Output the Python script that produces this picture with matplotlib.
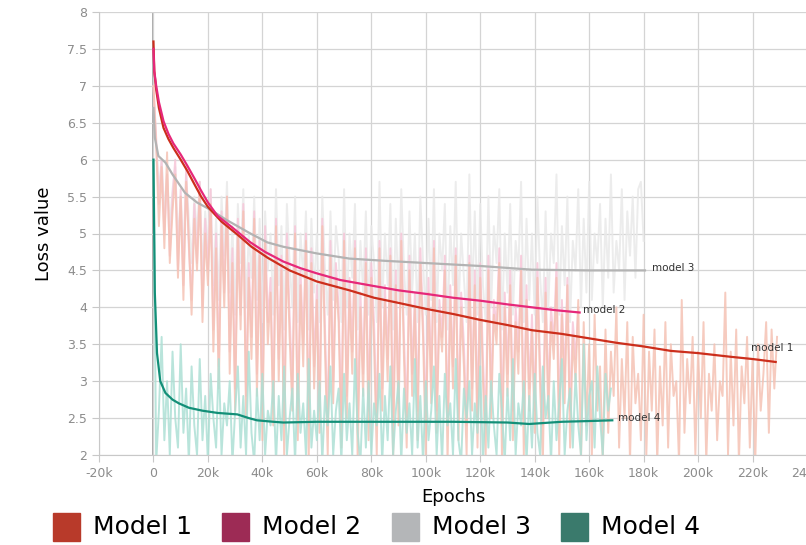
import numpy as np
import matplotlib
matplotlib.use("Agg")
import matplotlib.pyplot as plt
from matplotlib.patches import Rectangle

# smoothed loss curves (epochs in thousands)
m1_x = [0, 0.3, 1, 2, 3.7, 5.5, 7.3, 10, 12.4, 15, 17.5, 20, 25, 31, 36, 42, 50, 60, 72, 81, 90,
        100, 110, 120, 130, 139, 150, 160, 170, 180, 190, 200, 212, 220, 228.5]
m1_y = [7.6, 7.2, 6.95, 6.7, 6.43, 6.28, 6.16, 6.0, 5.85, 5.67, 5.5, 5.36, 5.16, 4.98, 4.82, 4.67, 4.5,
        4.35, 4.23, 4.13, 4.06, 3.98, 3.91, 3.83, 3.76, 3.69, 3.64, 3.58, 3.52, 3.47, 3.41, 3.38, 3.33,
        3.3, 3.26]

m2_x = [0, 0.3, 1, 2, 3.7, 5.5, 7.3, 10, 12.4, 15, 17.5, 20, 23.5, 29, 35.6, 41, 47.7, 54, 60, 68.6,
        80.7, 90, 100.5, 110, 120, 130, 139, 148, 156.5]
m2_y = [7.5, 7.2, 7.0, 6.78, 6.52, 6.35, 6.22, 6.07, 5.92, 5.75, 5.58, 5.42, 5.24, 5.08, 4.88, 4.75,
        4.62, 4.53, 4.46, 4.37, 4.29, 4.23, 4.18, 4.13, 4.09, 4.04, 4.0, 3.96, 3.93]

m3_x = [0, 0.5, 1.8, 4.4, 7, 11.6, 16, 21, 27, 35.6, 41.8, 47.7, 60, 72, 85, 100, 120, 139, 160, 180.5]
m3_y = [6.7, 6.3, 6.05, 5.96, 5.8, 5.55, 5.42, 5.32, 5.18, 5.0, 4.88, 4.82, 4.73, 4.66, 4.63, 4.6,
        4.56, 4.51, 4.5, 4.5]

m4_x = [0, 0.5, 1.3, 2.5, 4.4, 7, 9.3, 13, 18, 23.5, 30.8, 35, 38, 44, 47.7, 60, 72, 90, 110, 130,
        138, 150, 160, 168.5]
m4_y = [6.0, 4.2, 3.38, 3.0, 2.84, 2.75, 2.7, 2.64, 2.6, 2.57, 2.55, 2.5, 2.47, 2.45, 2.44, 2.45,
        2.45, 2.45, 2.45, 2.44, 2.42, 2.45, 2.46, 2.47]

# raw (unsmoothed) loss, one reading every 1k epochs
m1_raw = [7.0, 6.2, 5.1, 5.9, 4.8, 6.1, 4.6, 5.3, 5.8, 4.4, 5.5, 4.1, 5.7, 4.9, 3.9, 5.2, 4.5, 5.6, 3.8, 5.0,
          4.3, 5.4, 3.4, 4.8, 2.9, 5.1, 4.0, 5.5, 3.1, 4.6, 2.6, 5.0, 3.7, 5.3, 2.5, 4.4, 3.3, 5.2, 2.8, 4.7,
          2.2, 4.9, 3.5, 4.2, 2.4, 5.1, 3.0, 4.5, 2.0, 4.8, 3.6, 2.6, 5.0, 2.2, 4.3, 3.2, 4.9, 1.9, 4.6, 2.9,
          4.1, 2.3, 5.1, 3.4, 2.0, 4.7, 2.7, 4.4, 3.8, 2.1, 4.9, 2.5, 4.2, 3.1, 4.8, 1.9, 4.0, 2.8, 4.6, 2.2,
          4.4, 3.5, 2.0, 4.8, 2.6, 4.1, 3.0, 4.7, 1.9, 4.3, 2.4, 4.9, 3.3, 2.1, 4.5, 2.8, 4.0, 2.2, 4.6, 3.6,
          2.0, 4.2, 2.7, 4.8, 2.3, 3.9, 3.4, 4.5, 1.9, 4.1, 2.9, 4.7, 2.2, 4.0, 3.2, 2.0, 4.6, 2.6, 4.3, 2.1,
          4.4, 3.0, 2.0, 4.5, 2.5, 3.9, 3.5, 4.6, 1.9, 4.0, 2.8, 4.3, 2.2, 3.8, 3.1, 4.5, 2.0, 4.1, 2.6, 3.7,
          2.3, 4.4, 2.9, 1.9, 4.2, 2.5, 3.8, 3.3, 4.4, 2.0, 3.9, 2.7, 4.3, 2.1, 3.6, 3.0, 4.1, 1.9, 3.8, 2.4,
          3.5, 2.0, 3.9, 2.6, 3.2, 1.9, 3.7, 2.3, 3.4, 2.8, 4.0, 2.1, 3.3, 2.5, 3.8, 1.9, 3.6, 2.7, 3.1, 2.2,
          3.9, 2.0, 3.4, 2.6, 3.7, 1.9, 3.2, 2.4, 3.8, 2.1, 3.5, 2.8, 3.0, 1.9, 4.1, 2.3, 3.3, 2.7, 3.6, 2.0,
          3.4, 2.5, 3.8, 1.9, 3.1, 2.6, 3.5, 2.2, 3.0, 2.8, 4.2, 2.0, 3.4, 2.4, 3.7, 1.9, 3.2, 2.7, 3.6, 2.1,
          3.3, 1.9, 3.5, 2.6, 3.1, 3.8, 2.3, 3.7, 2.9, 3.6]
m2_raw = [7.0, 6.3, 5.4, 6.0, 5.0, 5.8, 4.7, 5.5, 6.0, 4.5, 5.6, 4.3, 5.9, 4.8, 4.1, 5.4, 4.6, 5.7, 4.0, 5.2,
          4.5, 5.6, 3.7, 5.0, 3.2, 5.3, 4.2, 5.5, 3.4, 4.8, 2.9, 5.2, 3.9, 5.4, 2.8, 4.6, 3.6, 5.3, 3.1, 4.9,
          2.6, 5.1, 3.8, 4.4, 2.7, 5.2, 3.3, 4.7, 2.4, 5.0, 3.9, 2.9, 5.1, 2.5, 4.5, 3.5, 5.0, 2.4, 4.8, 3.2,
          4.3, 2.6, 5.2, 3.7, 2.4, 4.9, 3.0, 4.6, 4.0, 2.5, 5.0, 2.8, 4.4, 3.4, 4.9, 2.4, 4.2, 3.1, 4.8, 2.6,
          4.6, 3.8, 2.4, 4.9, 2.9, 4.3, 3.3, 4.8, 2.4, 4.5, 2.7, 5.0, 3.6, 2.5, 4.7, 3.1, 4.2, 2.6, 4.8, 3.8,
          2.5, 4.4, 3.0, 4.9, 2.6, 4.1, 3.6, 4.7, 2.4, 4.3, 3.2, 4.8, 2.5, 4.2, 3.5, 2.4, 4.7, 2.9, 4.5, 2.5,
          4.6, 3.3, 2.4, 4.7, 2.8, 4.1, 3.7, 4.8, 2.4, 4.2, 3.1, 4.5, 2.6, 4.0, 3.4, 4.7, 2.5, 4.3, 2.9, 3.9,
          2.6, 4.6, 3.2, 2.4, 4.4, 2.8, 4.0, 3.5, 4.6, 2.5, 4.1, 3.0, 4.4, 2.6, 3.8, 3.3, 4.0]
m3_raw = [6.7, 6.2, 5.6, 6.0, 5.3, 5.8, 5.1, 5.6, 5.9, 4.9, 5.5, 4.7, 5.8, 5.2, 4.6, 5.5, 5.0, 5.7, 4.5, 5.3,
          4.8, 5.6, 4.3, 5.2, 4.1, 5.5, 4.7, 5.7, 4.2, 5.1, 3.9, 5.4, 4.6, 5.6, 4.0, 5.0, 4.4, 5.5, 4.1, 5.2,
          3.8, 5.3, 4.5, 5.0, 3.9, 5.6, 4.3, 5.1, 3.7, 5.4, 4.6, 4.0, 5.5, 3.8, 5.0, 4.4, 5.3, 3.7, 5.2, 4.2,
          5.0, 3.8, 5.5, 4.5, 3.9, 5.3, 4.1, 5.1, 4.7, 3.8, 5.6, 4.0, 5.0, 4.4, 5.4, 3.7, 4.9, 4.2, 5.3, 3.9,
          5.1, 4.6, 3.8, 5.7, 4.0, 5.0, 4.3, 5.4, 3.7, 5.2, 4.1, 5.6, 4.5, 3.9, 5.3, 4.2, 5.0, 3.8, 5.5, 4.6,
          3.9, 5.2, 4.1, 5.6, 3.8, 5.0, 4.5, 5.4, 3.7, 5.1, 4.3, 5.7, 3.9, 5.0, 4.4, 3.8, 5.8, 4.1, 5.3, 3.9,
          5.4, 4.3, 3.8, 5.5, 4.0, 5.1, 4.6, 5.6, 3.7, 5.0, 4.2, 5.4, 3.9, 4.9, 4.5, 5.7, 3.8, 5.2, 4.1, 5.0,
          3.9, 5.5, 4.4, 3.8, 5.3, 4.0, 5.0, 4.6, 5.8, 3.9, 5.1, 4.3, 5.5, 3.8, 4.9, 4.5, 5.6, 4.0, 5.2, 4.2,
          5.7, 4.1, 5.0, 4.6, 5.4, 4.0, 5.2, 4.4, 5.8, 4.2, 4.9, 4.5, 5.6, 4.1, 5.3, 4.7, 5.5, 4.4, 5.6, 5.7,
          4.9]
m4_raw = [6.0, 1.9, 2.6, 3.6, 2.2, 3.0, 2.0, 3.4, 2.5, 2.1, 3.5, 2.3, 2.9, 1.9, 3.2, 2.4, 2.0, 3.3, 2.2, 2.8,
          1.9, 3.1, 2.5, 2.1, 3.3, 2.0, 2.7, 2.4, 3.0, 1.9, 2.6, 3.2, 2.1, 2.8, 2.0, 3.4, 2.3, 1.9, 2.9, 2.2,
          3.1, 2.0, 2.6, 2.4, 3.0, 1.9, 2.8, 2.2, 3.2, 2.0, 2.5, 2.9, 1.9, 3.1, 2.3, 2.7, 2.0, 3.3, 2.1, 2.6,
          2.2, 3.0, 1.9, 2.8, 2.4, 3.2, 2.0, 2.6, 2.9, 1.9, 3.1, 2.2, 2.7, 2.0, 3.3, 2.3, 1.9, 2.9, 2.1, 3.0,
          2.0, 2.7, 2.4, 3.1, 1.9, 2.8, 2.2, 3.2, 2.0, 2.6, 3.0, 1.9, 2.9, 2.3, 2.7, 2.0, 3.3, 2.1, 2.8, 1.9,
          3.0, 2.2, 2.6, 3.2, 2.0, 2.8, 1.9, 3.1, 2.4, 2.7, 2.0, 3.3, 2.2, 1.9, 2.9, 2.5, 3.0, 2.0, 2.7, 2.3,
          3.2, 1.9, 2.8, 2.1, 3.0, 2.4, 2.0, 3.1, 2.6, 1.9, 2.9, 2.2, 3.3, 2.0, 2.7, 2.4, 3.0, 1.9, 2.8, 2.1,
          3.1, 2.3, 2.0, 3.2, 2.5, 2.8, 1.9, 3.0, 2.2, 2.7, 3.3, 2.0, 2.6, 2.9, 2.1, 3.1, 2.4, 2.0, 3.5, 2.2,
          2.8, 3.0, 2.1, 3.2, 2.5, 2.0, 3.1, 2.6, 2.9]
raw_step = 1000

names = ["Model 1", "Model 2", "Model 3", "Model 4"]
end_labels = ["model 1", "model 2", "model 3", "model 4"]
label_pos = [(219.5, 3.45), (157.8, 3.96), (183, 4.53), (170.6, 2.5)]

line_colors = ["#cc2e1c", "#e6287a", "#b3b3b3", "#138f78"]
raw_colors = ["#f5c2b4", "#f7c6d8", "#e9e9e9", "#ade0d5"]
legend_colors = ["#b83a2a", "#9d2b55", "#b4b6b8", "#3a7a6c"]

fig = plt.figure(figsize=(8.06, 5.45), dpi=100)
ax = fig.add_axes([99 / 806, 90 / 545, 708 / 806, 443 / 545])

# raw series first, drawn faint behind the smoothed ones
raws = [m3_raw, m2_raw, m1_raw, m4_raw]
raw_idx = [2, 1, 0, 3]
for r, i in zip(raws, raw_idx):
    rx = np.arange(len(r)) * raw_step
    ax.plot(rx, r, color=raw_colors[i], lw=1.4, alpha=0.85, zorder=2)

smooth = [(m3_x, m3_y), (m1_x, m1_y), (m2_x, m2_y), (m4_x, m4_y)]
for (sx, sy), i in zip(smooth, [2, 0, 1, 3]):
    ax.plot(np.array(sx) * 1000, sy, color=line_colors[i], lw=1.6, zorder=4)

for txt, (lx, ly) in zip(end_labels, label_pos):
    ax.text(lx * 1000, ly, txt, fontsize=7.5, color="#333333", va="center", ha="left", zorder=5)

ax.set_xlim(-20000, 240000)
ax.set_ylim(2, 8)
xt = np.arange(-20000, 240001, 20000)
ax.set_xticks(xt)
ax.set_xticklabels(["-20k", "0"] + ["%dk" % (v // 1000) for v in xt[2:]])
ax.set_yticks([2, 2.5, 3, 3.5, 4, 4.5, 5, 5.5, 6, 6.5, 7, 7.5, 8])
ax.set_yticklabels(["2", "2.5", "3", "3.5", "4", "4.5", "5", "5.5", "6", "6.5", "7", "7.5", "8"])
ax.tick_params(colors="#c8c8c8", labelcolor="#8c8c8c", labelsize=9, length=5, width=0.8)
ax.grid(True, color="#d4d4d4", lw=0.9, zorder=0)
ax.axvline(0, color="#9a9a9a", lw=1.2, zorder=1)
for s in ["top", "right"]:
    ax.spines[s].set_visible(False)
for s in ["left", "bottom"]:
    ax.spines[s].set_color("#c8c8c8")

ax.set_xlabel("Epochs", fontsize=13, labelpad=6)
ax.set_ylabel("Loss value", fontsize=13, labelpad=10)

# legend row of coloured squares under the plot
sq_x = [53, 222, 392, 561]
for x0, c, n in zip(sq_x, legend_colors, names):
    fig.patches.append(Rectangle((x0 / 806, 4 / 545), 27 / 806, 28 / 545,
                                 transform=fig.transFigure, color=c))
    fig.text((x0 + 40) / 806, 18 / 545, n, fontsize=18, va="center", ha="left")

fig.savefig("out.png", dpi=100)
